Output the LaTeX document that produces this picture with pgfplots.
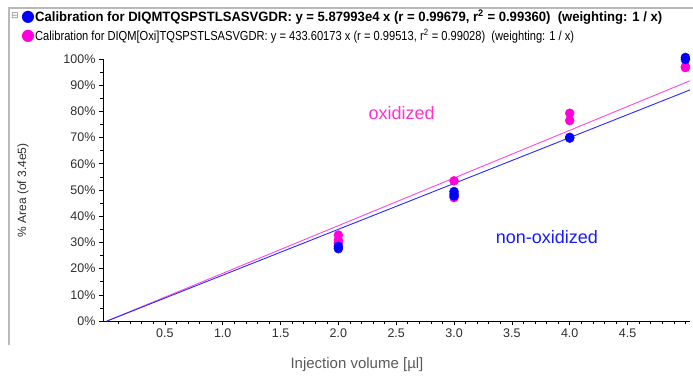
\documentclass[border=0pt]{standalone}
\usepackage{pgfplots}
\pgfplotsset{compat=1.18}
\usepackage{fontspec}
\setmainfont{Liberation Sans}
\newfontfamily\dejavu{DejaVu Sans}
\definecolor{mblue}{RGB}{0,0,255}
\definecolor{mmag}{RGB}{255,0,220}
\definecolor{lblue}{RGB}{40,40,255}
\definecolor{lmag}{RGB}{255,70,230}
\definecolor{txtmag}{RGB}{255,51,204}
\definecolor{txtblue}{RGB}{25,25,255}
\definecolor{ticktext}{RGB}{45,45,45}
\definecolor{labtext}{RGB}{90,90,90}
\definecolor{framegray}{RGB}{185,185,185}
\newcommand\fitline[3]{\resizebox{#1}{#2}{\smash{#3}\rule{0pt}{\fontcharht\font`\0}}}
\begin{document}
\begin{tikzpicture}[x=1pt,y=1pt]
\useasboundingbox (0,0) rectangle (693,375);
\draw[framegray, line width=1.5pt] (9,30) -- (9,367) -- (693,367);
\node[inner sep=0, text=gray] at (15,359) {\dejavu\fontsize{9}{9}\selectfont ⊟};
\node[inner sep=0, text=mblue] at (28,358) {\dejavu\fontsize{16}{16}\selectfont ●};
\node[inner sep=0, text=mmag] at (28,339) {\dejavu\fontsize{16}{16}\selectfont ●};
\node[anchor=base west, inner sep=0] at (35,353.5) {\bfseries\fitline{627pt}{9.3pt}{Calibration for DIQMTQSPSTLSASVGDR: y = 5.87993e4 x (r = 0.99679, r\textsuperscript{2} = 0.99360)\ \ (weighting: 1 / x)}};
\node[anchor=base west, inner sep=0] at (35,334.5) {\fitline{539pt}{9.0pt}{Calibration for DIQM[Oxi]TQSPSTLSASVGDR: y = 433.60173 x (r = 0.99513, r\textsuperscript{2} = 0.99028)\ \ (weighting: 1 / x)}};
\begin{axis}[
  at={(103pt,54pt)}, anchor=south west,
  scale only axis, width=587pt, height=262pt,
  xmin=-0.035, xmax=5.04, ymin=0, ymax=100,
  axis x line*=bottom, axis y line*=left,
  axis line style={-, black, line width=0.8pt},
  clip=false,
  tick align=outside,
  major tick length=4pt, minor tick length=2.5pt,
  every tick/.style={black, line width=0.6pt},
  xtick={0.5,1,1.5,2,2.5,3,3.5,4,4.5},
  xticklabels={0.5,1.0,1.5,2.0,2.5,3.0,3.5,4.0,4.5},
  minor xtick={0.1,0.2,0.3,0.4,0.6,0.7,0.8,0.9,1.1,1.2,1.3,1.4,1.6,1.7,1.8,1.9,2.1,2.2,2.3,2.4,2.6,2.7,2.8,2.9,3.1,3.2,3.3,3.4,3.6,3.7,3.8,3.9,4.1,4.2,4.3,4.4,4.6,4.7,4.8,4.9,5.0},
  ytick={0,10,20,30,40,50,60,70,80,90,100},
  yticklabels={0\%,10\%,20\%,30\%,40\%,50\%,60\%,70\%,80\%,90\%,100\%},
  minor ytick={5,15,25,35,45,55,65,75,85,95},
  ticklabel style={font=\fontsize{12.5}{14}\selectfont, text=ticktext},
  xlabel={Injection volume [µl]},
  xlabel style={at={(axis description cs:0.4327,0)}, anchor=center, yshift=-44pt, font=\fontsize{15}{18}\selectfont, text=labtext},
  ylabel={\% Area (of 3.4e5)},
  ylabel style={at={(axis description cs:-0.1363,0.498)}, anchor=center, font=\fontsize{12}{14}\selectfont, text=ticktext},
]
\addplot[lmag, line width=0.9pt, no marks] coordinates {(0,0) (5.04,91.7)};
\addplot[lblue, line width=0.9pt, no marks] coordinates {(0,0) (5.04,88.2)};
\addplot[only marks, mark=*, mark size=4.5pt, mmag, mark options={draw=mmag, fill=mmag}] coordinates {
(2,32.8) (2,30.9) (2,29.8) (3,53.5) (3,47.1) (4,79.3) (4,76.5) (5,97.1) (5,96.7)};
\addplot[only marks, mark=*, mark size=4.5pt, mblue, mark options={draw=mblue, fill=mblue}] coordinates {
(2,28.5) (2,27.6) (3,49.4) (3,48.5) (3,47.7) (4,70.1) (4,69.8) (5,100.6) (5,99.8)};
\node[text=txtmag, font=\fontsize{18}{20}\selectfont] at (axis cs:2.547,79.5) {oxidized};
\node[text=txtblue, font=\fontsize{18}{20}\selectfont] at (axis cs:3.803,31.9) {non-oxidized};
\end{axis}
\end{tikzpicture}
\end{document}
